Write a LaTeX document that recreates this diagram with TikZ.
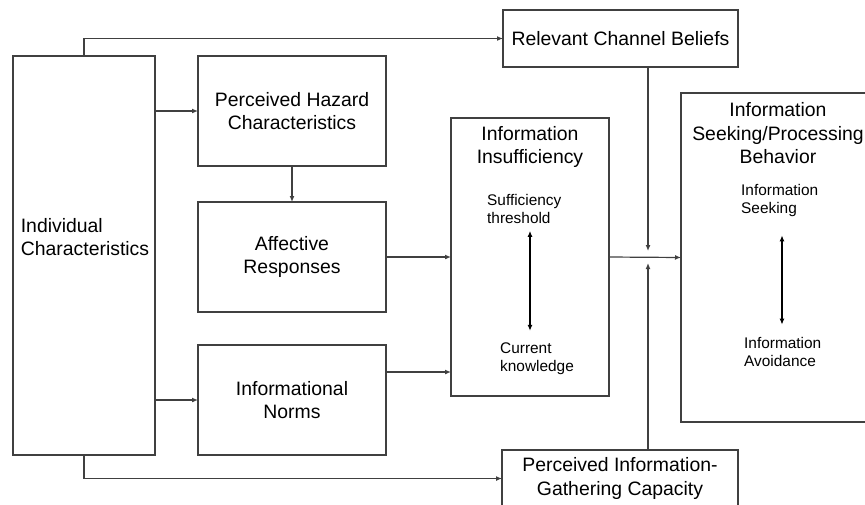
\documentclass[tikz,border=0pt]{standalone}
\usepackage{fontspec}
\setmainfont{Liberation Sans}
\usetikzlibrary{arrows.meta,positioning}
\definecolor{linegray}{rgb}{0.25,0.25,0.25}
\newcommand{\bigtxt}{\fontsize{19.4pt}{23.5pt}\selectfont}
\newcommand{\smalltxt}{\fontsize{15.4pt}{18pt}\selectfont}
\tikzset{
  caja/.style={
    draw=linegray,
    line width=1.2pt,
    align=center,
    inner sep=0pt,
    outer sep=0pt,
    font=\bigtxt
  },
  texto/.style={
    align=center,
    inner sep=0pt,
    font=\bigtxt
  },
  nota/.style={
    align=left,
    anchor=west,
    inner sep=0pt,
    font=\smalltxt
  },
  arrow/.style={
    -{Latex[length=6pt,width=5pt]},
    line width=1.2pt,
    linegray
  },
  dbl/.style={
    {Latex[length=6pt,width=5pt]}-{Latex[length=6pt,width=5pt]},
    line width=1.4pt,
    black
  }
}

\begin{document}
\begin{tikzpicture}[x=1pt, y=-1pt, node distance=36pt]
\useasboundingbox (0,0) rectangle (865,504);
\clip (0,0) rectangle (865,504);
% left column
\node[caja, minimum width=142pt, minimum height=399pt] (ind) at (84,255.5) {};
\node[texto, align=left] (indtxt) at (85,237) {Individual\\Characteristics};
% middle column
\node[caja, minimum width=188pt, minimum height=110pt] (hazard) at (292,111) {Perceived Hazard\\Characteristics};
\node[caja, minimum width=188pt, minimum height=110pt, below=36pt of hazard] (affect) {Affective\\Responses};
\node[caja, minimum width=188pt, minimum height=110pt, below=33pt of affect] (norms) {Informational\\Norms};
% information insufficiency
\node[caja, minimum width=158pt, minimum height=278pt] (insuf) at (530,257) {};
\node[texto] (insuftitle) at (530,147) {Information\\Insufficiency};
\node[nota] (thr) at (487,209) {Sufficiency\\threshold};
\node[nota] (cur) at (500,359) {Current\\knowledge};
% channel beliefs and capacity
\node[caja, minimum width=235pt, minimum height=57pt] (rcb) at (620.5,38.5) {Relevant Channel Beliefs};
\node[caja, minimum width=236pt, minimum height=57pt] (cap) at (620,478.5) {Perceived Information-\\Gathering Capacity};
% seeking behavior
\node[caja, minimum width=194pt, minimum height=329pt] (seek) at (778,257.5) {};
\node[texto] (seektitle) at (778,133.5) {Information\\Seeking/Processing\\Behavior};
\node[nota] (seeking) at (741,201) {Information\\Seeking};
\node[nota] (avoid) at (744,351.5) {Information\\Avoidance};
\coordinate (jtop) at (648,251);
\coordinate (jbot) at (648,263);
% connectors
\draw[arrow] (ind.north) |- (rcb.west);
\draw[arrow] (ind.south) |- (cap.west);
\draw[arrow] (ind.east |- hazard) -- (hazard.west);
\draw[arrow] (ind.east |- norms) -- (norms.west);
\draw[arrow] (hazard) -- (affect);
\draw[arrow] (affect.east) -- (affect.east -| insuf.west);
\draw[arrow] ([yshift=28pt]norms.east) -- ([yshift=28pt]norms.east -| insuf.west);
\draw[arrow] (insuf.east) -- (seek.west);
\draw[arrow] (rcb.south -| jtop) -- (jtop);
\draw[arrow] (cap.north -| jbot) -- (jbot);
\draw[dbl, shorten <=7pt, shorten >=12pt] (thr.south -| insuf) -- (cur.north -| insuf);
\draw[dbl, shorten <=18pt, shorten >=12pt] (seeking.south -| 782,0) -- (avoid.north -| 782,0);
\end{tikzpicture}
\end{document}
